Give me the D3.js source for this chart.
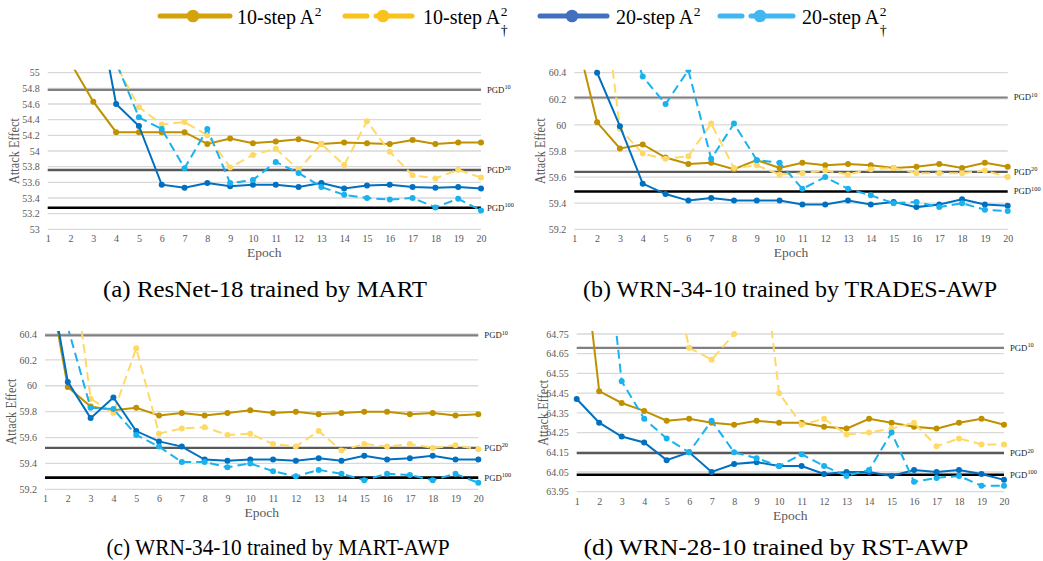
<!DOCTYPE html>
<html><head><meta charset="utf-8">
<script src="https://cdn.jsdelivr.net/npm/d3@7"></script>
<style>
html,body{margin:0;padding:0;background:#fff;}
svg, svg text{font-family:"Liberation Serif","Tinos","Times New Roman","Nimbus Roman","DejaVu Serif",serif !important;}
</style></head>
<body><svg id="c" width="1043" height="561"></svg>
<script>
const epochs = [1,2,3,4,5,6,7,8,9,10,11,12,13,14,15,16,17,18,19,20];
const seriesNames = ["10-step A", "10-step A", "20-step A", "20-step A"];
const seriesDagger = [false, true, false, true];
const seriesColors = ["#BF9000", "#FFD966", "#0070C0", "#19B2EF"];
const legendColors = ["#D4A20A", "#FBC21B", "#4270BE", "#41B7F2"];
const refLabels = ["10", "20", "100"];

// (a) ResNet-18 trained by MART
const aTicks = [53, 53.2, 53.4, 53.6, 53.8, 54, 54.2, 54.4, 54.6, 54.8, 55];
const aRefs = [54.78, 53.757, 53.276];
const a10 = [56.2, 55.13, 54.63, 54.24, 54.24, 54.24, 54.24, 54.09, 54.16, 54.10, 54.12, 54.15, 54.09, 54.11, 54.10, 54.09, 54.14, 54.09, 54.11, 54.11];
const a10d = [57.0, 56.4, 55.8, 55.10, 54.56, 54.34, 54.37, 54.20, 53.79, 53.95, 54.03, 53.76, 54.09, 53.82, 54.38, 53.99, 53.69, 53.65, 53.76, 53.66];
const a20 = [58.5, 57.5, 56.14, 54.60, 54.32, 53.57, 53.53, 53.59, 53.55, 53.57, 53.57, 53.54, 53.59, 53.52, 53.56, 53.57, 53.54, 53.53, 53.54, 53.52];
const a20d = [58.0, 57.0, 56.0, 55.13, 54.43, 54.28, 53.78, 54.28, 53.59, 53.63, 53.86, 53.72, 53.54, 53.44, 53.40, 53.38, 53.40, 53.28, 53.39, 53.24];

// (b) WRN-34-10 trained by TRADES-AWP
const bTicks = [59.2, 59.4, 59.6, 59.8, 60, 60.2, 60.4];
const bRefs = [60.21, 59.64, 59.49];
const b10 = [60.74, 60.02, 59.82, 59.85, 59.75, 59.70, 59.71, 59.66, 59.73, 59.67, 59.71, 59.69, 59.70, 59.69, 59.67, 59.68, 59.70, 59.67, 59.71, 59.68];
const b10d = [62.0, 61.4, 59.97, 59.78, 59.74, 59.76, 60.01, 59.67, 59.69, 59.62, 59.63, 59.65, 59.62, 59.66, 59.67, 59.63, 59.63, 59.63, 59.65, 59.60];
const b20 = [61.2, 60.40, 59.99, 59.55, 59.47, 59.42, 59.44, 59.42, 59.42, 59.42, 59.39, 59.39, 59.42, 59.39, 59.41, 59.37, 59.39, 59.43, 59.39, 59.38];
const b20d = [61.6, 61.2, 60.9, 60.37, 60.16, 60.42, 59.74, 60.01, 59.73, 59.71, 59.51, 59.60, 59.51, 59.46, 59.40, 59.41, 59.37, 59.40, 59.35, 59.34];

// (c) WRN-34-10 trained by MART-AWP
const cTicks = [59.2, 59.4, 59.6, 59.8, 60, 60.2, 60.4];
const cRefs = [60.39, 59.52, 59.29];
const c10 = [60.97, 59.99, 59.84, 59.81, 59.83, 59.77, 59.79, 59.77, 59.79, 59.81, 59.79, 59.80, 59.78, 59.79, 59.80, 59.80, 59.78, 59.79, 59.77, 59.78];
const c10d = [61.8, 61.25, 59.90, 59.79, 60.29, 59.63, 59.67, 59.68, 59.62, 59.63, 59.55, 59.53, 59.65, 59.50, 59.55, 59.53, 59.55, 59.52, 59.54, 59.51];
const c20 = [61.03, 60.03, 59.75, 59.91, 59.65, 59.57, 59.53, 59.43, 59.42, 59.43, 59.43, 59.42, 59.44, 59.42, 59.46, 59.43, 59.44, 59.46, 59.43, 59.43];
const c20d = [61.2, 60.45, 59.83, 59.82, 59.62, 59.53, 59.41, 59.41, 59.37, 59.40, 59.34, 59.30, 59.35, 59.32, 59.27, 59.32, 59.31, 59.27, 59.32, 59.25];

// (d) WRN-28-10 trained by RST-AWP
const dTicks = [63.95, 64.05, 64.15, 64.25, 64.35, 64.45, 64.55, 64.65, 64.75];
const dRefs = [64.68, 64.146, 64.036];
const d10 = [65.46, 64.46, 64.40, 64.36, 64.31, 64.32, 64.30, 64.29, 64.31, 64.30, 64.30, 64.28, 64.27, 64.32, 64.30, 64.28, 64.27, 64.30, 64.32, 64.29];
const d10d = [66.2, 65.9, 65.6, 65.4, 65.2, 64.68, 64.62, 64.75, 65.42, 64.45, 64.29, 64.32, 64.24, 64.25, 64.27, 64.30, 64.18, 64.22, 64.19, 64.19];
const d20 = [64.42, 64.30, 64.23, 64.20, 64.11, 64.15, 64.05, 64.09, 64.10, 64.08, 64.08, 64.04, 64.05, 64.05, 64.03, 64.06, 64.05, 64.06, 64.04, 64.01];
const d20d = [66.0, 65.55, 64.51, 64.32, 64.22, 64.15, 64.31, 64.15, 64.12, 64.08, 64.14, 64.08, 64.03, 64.06, 64.25, 64.00, 64.02, 64.03, 63.98, 63.98];

const captions = ["(a) ResNet-18 trained by MART", "(b) WRN-34-10 trained by TRADES-AWP",
                  "(c) WRN-34-10 trained by MART-AWP", "(d) WRN-28-10 trained by RST-AWP"];

const panels = [
  {id:"a", L:47.7, R:481, T:72.7, B:229.3, ticks:aTicks, refs:aRefs, series:[a10,a10d,a20,a20d], fmt:d3.format(""), cap:captions[0], capX:265, capW:324, capY:297},
  {id:"b", L:574.3, R:1007.7, T:72.7, B:229.3, ticks:bTicks, refs:bRefs, series:[b10,b10d,b20,b20d], fmt:d3.format(""), cap:captions[1], capX:790, capW:414, capY:297},
  {id:"c", L:45, R:478.3, T:334, B:489.3, ticks:cTicks, refs:cRefs, series:[c10,c10d,c20,c20d], fmt:d3.format(""), cap:captions[2], capX:278, capW:343, capY:555},
  {id:"d", L:576.7, R:1004, T:334, B:491.7, ticks:dTicks, refs:dRefs, series:[d10,d10d,d20,d20d], fmt:d3.format(".2f"), cap:captions[3], capX:776, capW:385, capY:555}
];

const svg = d3.select("#c");
const defs = svg.append("defs");

panels.forEach(p => {
  const x = d3.scaleLinear().domain([epochs[0], epochs[epochs.length-1]]).range([p.L, p.R]);
  const y = d3.scaleLinear().domain([p.ticks[0], p.ticks[p.ticks.length-1]]).range([p.B, p.T]);
  const g = svg.append("g");

  g.append("g").selectAll("line").data(p.ticks).join("line")
    .attr("x1", p.L).attr("x2", p.R).attr("y1", d=>y(d)).attr("y2", d=>y(d))
    .attr("stroke", "#d9d9d9").attr("stroke-width", 1.3);

  const ya = d3.axisLeft(y).tickValues(p.ticks).tickFormat(p.fmt).tickSize(0).tickPadding(8);
  const yg = g.append("g").attr("transform", `translate(${p.L},0)`).call(ya);
  yg.select(".domain").remove();
  yg.attr("font-family", null);
  yg.selectAll("text").attr("font-size", 10).attr("fill", "#595959");

  const xa = d3.axisBottom(x).tickValues(epochs).tickFormat(d3.format("d")).tickSize(0).tickPadding(6);
  const xg = g.append("g").attr("transform", `translate(0,${p.B})`).call(xa);
  xg.select(".domain").remove();
  xg.attr("font-family", null);
  xg.selectAll("text").attr("font-size", 10).attr("fill", "#595959");

  g.append("text").attr("x", (p.L+p.R)/2).attr("y", p.B + 28).attr("text-anchor", "middle")
    .attr("font-size", 13.5).attr("fill", "#595959").text("Epoch");
  g.append("text").attr("transform", `translate(${p.L-29},${(p.T+p.B)/2}) rotate(-90)`)
    .attr("text-anchor", "middle").attr("font-size", 14).attr("fill", "#595959")
    .attr("textLength", 66).attr("lengthAdjust", "spacingAndGlyphs").text("Attack Effect");

  const refStyle = [{c:"#808080", w:2.2}, {c:"#595959", w:2.4}, {c:"#000000", w:2.6}];
  p.refs.forEach((v, i) => {
    g.append("line").attr("x1", p.L).attr("x2", p.R).attr("y1", y(v)).attr("y2", y(v))
      .attr("stroke", refStyle[i].c).attr("stroke-width", refStyle[i].w);
    const t = g.append("text").attr("x", p.R + 6).attr("y", y(v) + 3).attr("font-size", 8.7).attr("fill", "#222");
    t.append("tspan").text("PGD");
    t.append("tspan").attr("dy", -3.5).attr("font-size", 6.3).text(refLabels[i]);
  });

  defs.append("clipPath").attr("id", "clip" + p.id).append("rect")
    .attr("x", p.L - 5).attr("y", p.T - 3).attr("width", p.R - p.L + 10).attr("height", p.B - p.T + 8);
  const sg = g.append("g").attr("clip-path", `url(#clip${p.id})`);

  const line = d3.line().x((d,i)=>x(epochs[i])).y(d=>y(d));
  p.series.forEach((s, k) => {
    sg.append("path").datum(s).attr("d", line).attr("fill", "none")
      .attr("stroke", seriesColors[k]).attr("stroke-width", 2)
      .attr("stroke-dasharray", seriesDagger[k] ? "9,5" : null);
    sg.append("g").selectAll("circle").data(s).join("circle")
      .attr("cx", (d,i)=>x(epochs[i])).attr("cy", d=>y(d)).attr("r", 3)
      .attr("fill", seriesColors[k]);
  });

  svg.append("text").attr("x", p.capX).attr("y", p.capY).attr("text-anchor", "middle")
    .attr("font-size", 22.5).attr("fill", "#000")
    .attr("textLength", p.capW).attr("lengthAdjust", "spacingAndGlyphs").text(p.cap);
});

// legend
const legX = [160, 345, 540, 720];
const legEnd = [230, 412, 607, 793];
const legMarker = [193, 383, 572, 760];
const legText = [237, 423, 616, 802];
const legG = svg.append("g");
seriesNames.forEach((name, k) => {
  const ly = 16;
  legG.append("line").attr("x1", legX[k]).attr("x2", legEnd[k]).attr("y1", ly).attr("y2", ly)
    .attr("stroke", legendColors[k]).attr("stroke-width", 5).attr("stroke-linecap", "round")
    .attr("stroke-dasharray", seriesDagger[k] ? "22,9,200" : null);
  legG.append("circle").attr("cx", legMarker[k]).attr("cy", ly).attr("r", 6.3).attr("fill", legendColors[k]);
  const t = legG.append("text").attr("x", legText[k]).attr("y", 24).attr("font-size", 20).attr("fill", "#000").text(name);
  const w = t.node().getComputedTextLength();
  legG.append("text").attr("x", legText[k] + w + 0.5).attr("y", 16).attr("font-size", 13.5).text("2");
  if (seriesDagger[k]) {
    legG.append("text").attr("x", legText[k] + w + 0.5).attr("y", 35).attr("font-size", 14).text("†");
  }
});
</script></body></html>
